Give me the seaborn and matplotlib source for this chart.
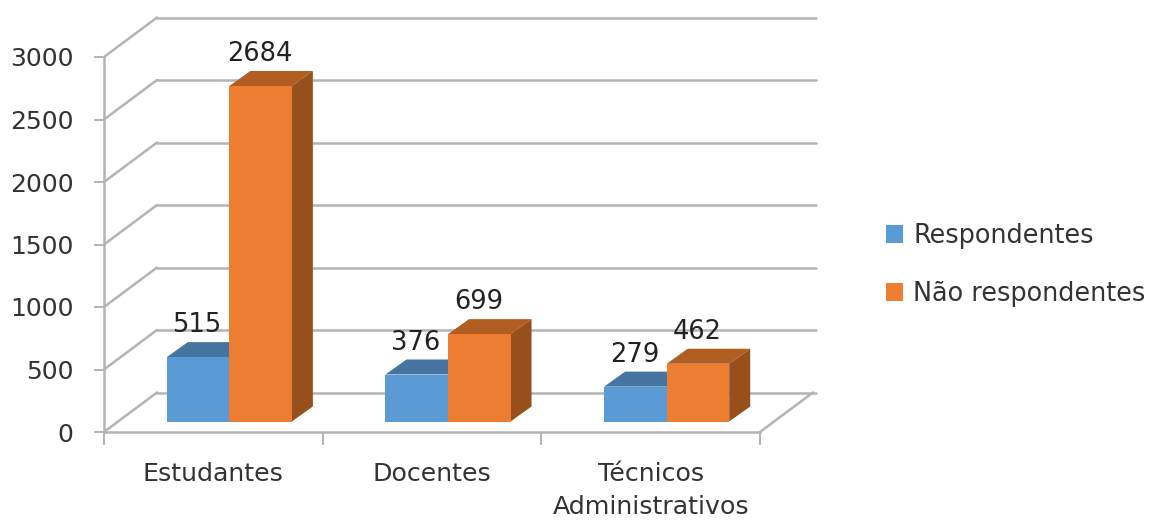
import seaborn as sns
import pandas as pd
import matplotlib.pyplot as plt
from matplotlib.patches import Polygon
from matplotlib.transforms import Affine2D

categorias = ['Estudantes', 'Docentes', 'Técnicos\nAdministrativos']
respondentes = [515, 376, 279]
nao_respondentes = [2684, 699, 462]
series = ['Respondentes', 'Não respondentes']
yticks = [0, 500, 1000, 1500, 2000, 2500, 3000]

cores = ['#5b9bd5', '#ed7d31']
cores_topo = ['#44749f', '#b25d22']
cores_lado = ['#3d6a91', '#97501c']
cinza = '#b4b4b4'
texto = '#333333'

df = pd.DataFrame({
    'categoria': categorias * 2,
    'serie': [series[0]] * 3 + [series[1]] * 3,
    'valor': respondentes + nao_respondentes,
})

sns.set_theme(style='white')
plt.rcParams['font.family'] = ['DejaVu Sans']

W, H = 1152, 522
fig = plt.figure(figsize=(W / 100, H / 100), dpi=100)
ax = fig.add_axes([104 / W, 1 - 432 / H, (760 - 104) / W, (432 - 57) / H])

sns.barplot(data=df, x='categoria', y='valor', hue='serie', hue_order=series,
            palette=cores, saturation=1, width=0.572, linewidth=0, ax=ax)
ax.set_xlim(-0.5, 2.5)
ax.set_ylim(0, 3000)
ax.set_xlabel('')
ax.set_ylabel('')

# eixos
for s in ['top', 'right']:
    ax.spines[s].set_visible(False)
for s in ['left', 'bottom']:
    ax.spines[s].set_color(cinza)
    ax.spines[s].set_linewidth(1.8)
ax.set_yticks(yticks)
ax.tick_params(axis='y', length=7, width=1.4, color=cinza, pad=15, labelsize=18, labelcolor=texto, left=True)
ax.set_xticks([0, 1, 2])
ax.set_xticklabels(categorias, linespacing=1.48)
ax.set_xticks([-0.5, 0.5, 1.5, 2.5], minor=True)
ax.tick_params(axis='x', which='major', length=0, pad=21.5, labelsize=18.2, labelcolor=texto)
ax.tick_params(axis='x', which='minor', length=9, width=1.4, color=cinza, bottom=True)


def px(x, y):
    return ax.transData.transform((x, y))


# paredes e grade (deslocadas para tras em pixels)
parede_x, parede_y = 53, 39.5
fundo = ax.transData + Affine2D().translate(parede_x, parede_y)
for v in yticks:
    ax.plot([-0.5, 2.514], [v, v], transform=fundo, color=cinza, lw=1.8, clip_on=False, zorder=1)
    x0, y0 = px(-0.5, v)
    ax.plot([x0, x0 + parede_x], [y0, y0 + parede_y], transform=None, color=cinza, lw=1.8, clip_on=False, zorder=1)
x0, y0 = px(2.5, 0)
ax.plot([x0, x0 + parede_x], [y0, y0 + parede_y], transform=None, color=cinza, lw=1.8, clip_on=False, zorder=1)

# barras em falso 3D
frente_x, frente_y = 16, 10.5
prof_x, prof_y = 21, 15
frente = ax.transData + Affine2D().translate(frente_x, frente_y)
for i, cont in enumerate(ax.containers):
    z = 3 + i
    for bar in cont:
        bar.set_transform(frente)
        bar.set_clip_on(False)
        bar.set_zorder(z + 0.5)
        xl, yt = px(bar.get_x(), bar.get_height())
        xr, yb = px(bar.get_x() + bar.get_width(), 0)
        xl, xr = xl + frente_x, xr + frente_x
        yt, yb = yt + frente_y, yb + frente_y
        ax.add_patch(Polygon([(xl, yt), (xr, yt), (xr + prof_x, yt + prof_y), (xl + prof_x, yt + prof_y)],
                             transform=None, fc=cores_topo[i], ec='none', clip_on=False, zorder=z))
        ax.add_patch(Polygon([(xr, yb), (xr + prof_x, yb + prof_y), (xr + prof_x, yt + prof_y), (xr, yt)],
                             transform=None, fc=cores_lado[i], ec='none', clip_on=False, zorder=z))
        ax.annotate(str(int(bar.get_height())), (bar.get_x() + bar.get_width() / 2, bar.get_height()),
                    xytext=(frente_x - 1, frente_y + 32), textcoords='offset pixels', ha='center', va='center',
                    fontsize=18.5, color='#222222', zorder=6, annotation_clip=False)

sns.move_legend(ax, 'center left', bbox_to_anchor=(886 / W, 1 - 265 / H), bbox_transform=fig.transFigure,
                frameon=False, title=None, fontsize=18.4, labelspacing=1.25, handlelength=0.68,
                handleheight=0.68, handletextpad=0.38, borderpad=0, borderaxespad=0, labelcolor=texto)

fig.savefig('out.png', dpi=100)
